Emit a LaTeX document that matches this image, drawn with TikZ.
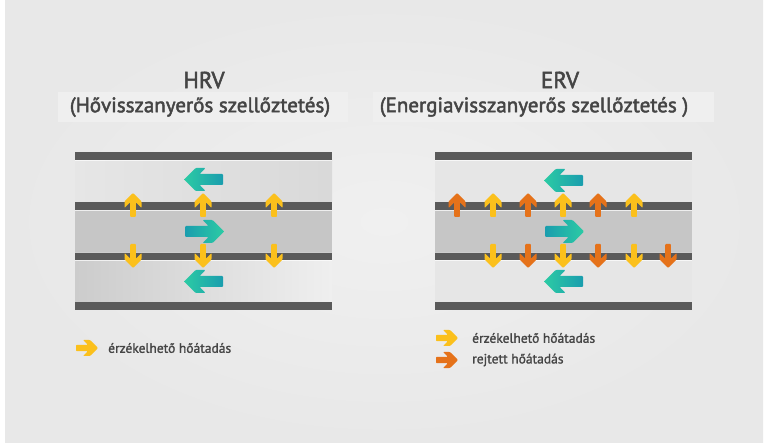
\documentclass[tikz,border=0pt]{standalone}
\usepackage{fontspec}
\setmainfont{PT Sans}
\newfontfamily\medfont{PT Sans}[FakeBold=2.2]
\newfontfamily\legfont{PT Sans}[FakeBold=1.4]
\definecolor{bgout}{HTML}{E8E8E8}
\definecolor{bgin}{HTML}{F0F0F0}
\definecolor{band}{HTML}{EFEFEF}
\definecolor{bar}{HTML}{5A5A5A}
\definecolor{midband}{HTML}{C6C6C6}
\definecolor{lightband}{HTML}{E6E6E6}
\definecolor{yel}{HTML}{FBC01C}
\definecolor{ora}{HTML}{E5721A}
\definecolor{tealA}{HTML}{2CCBA4}
\definecolor{tealB}{HTML}{1A9DAE}
\definecolor{txt}{HTML}{454545}
% horizontal chevron arrow: opts, tipx, tipy, dir(1=points left,-1=points right), L, H, d, s
\newcommand\harr[8]{\path[#1] (#2,#3) -- ({#2+#4*#6},{#3-#6}) -- ({#2+#4*(#6+#7)},{#3-#6}) -- ({#2+#4*(#8+#7)},{#3-#8}) -- ({#2+#4*#5},{#3-#8}) -- ({#2+#4*#5},{#3+#8}) -- ({#2+#4*(#8+#7)},{#3+#8}) -- ({#2+#4*(#6+#7)},{#3+#6}) -- ({#2+#4*#6},{#3+#6}) -- cycle;}
% vertical chevron arrow: dir 1 = points up, -1 = points down
\newcommand\varr[8]{\path[#1] (#2,#3) -- ({#2-#6},{#3+#4*#6}) -- ({#2-#6},{#3+#4*(#6+#7)}) -- ({#2-#8},{#3+#4*(#8+#7)}) -- ({#2-#8},{#3+#4*#5}) -- ({#2+#8},{#3+#4*#5}) -- ({#2+#8},{#3+#4*(#8+#7)}) -- ({#2+#6},{#3+#4*(#6+#7)}) -- ({#2+#6},{#3+#4*#6}) -- cycle;}
\newcommand\upY[2]{\varr{fill=yel,rounded corners=0.8pt}{#1}{#2}{1}{24}{8.5}{6.5}{2.8}}
\newcommand\dnY[2]{\varr{fill=yel,rounded corners=0.8pt}{#1}{#2}{-1}{24}{8.5}{6.5}{2.8}}
\newcommand\upO[2]{\varr{fill=ora,rounded corners=0.8pt}{#1}{#2}{1}{24}{8.5}{6.5}{2.8}}
\newcommand\dnO[2]{\varr{fill=ora,rounded corners=0.8pt}{#1}{#2}{-1}{24}{8.5}{6.5}{2.8}}
\newcommand\tealL[2]{\harr{left color=tealA,right color=tealB,rounded corners=1pt}{#1}{#2}{1}{39}{11.5}{10}{5.5}}
\newcommand\tealR[2]{\harr{left color=tealB,right color=tealA,rounded corners=1pt}{#1}{#2}{-1}{39}{11.5}{10}{5.5}}
\tikzset{
  title/.style={font=\medfont\fontsize{21}{24}\selectfont, text=txt, inner sep=0pt},
  bigtitle/.style={font=\medfont\fontsize{23}{26}\selectfont, text=txt, inner sep=0pt},
  legend/.style={font=\legfont\fontsize{13.5}{16}\selectfont, text=txt, inner sep=0pt, anchor=west},
  barfill/.style={fill=bar},
  edge/.style={draw=white, line width=0.8pt, opacity=0.7}
}
\begin{document}
\begin{tikzpicture}[x=1pt,y=-1pt]
\useasboundingbox (0,0) rectangle (768,443);
\fill[white] (0,0) rectangle (768,443);
\shade[inner color=bgin, outer color=bgout] (5,0) rectangle (763,443);
\fill[band] (58,92) rectangle (348,122);
\fill[band] (373,92) rectangle (714,122);

% titles
\node[bigtitle] (hrv) at (204,80) {HRV};
\node[title] (hrvsub) at (200,107) {(Hővisszanyerős szellőztetés)};
\node[bigtitle] (erv) at (560,80) {ERV};
\node[title] (ervsub) at (534,107) {(Energiavisszanyerős szellőztetés )};

% HRV panel
\shade[left color=lightband, middle color=band, right color=black!15] (75,160) rectangle (332,202);
\fill[midband] (75,210) rectangle (332,252);
\shade[left color=black!20, middle color=lightband, right color=band] (75,260) rectangle (332,302);
\foreach \y in {152,202,252,302} \fill[barfill] (75,\y) rectangle (332,\y+8);
\foreach \y in {160,210,252,260} \draw[edge] (75,\y) -- (332,\y);

% ERV panel
\fill[lightband] (435,160) rectangle (692,202);
\fill[midband] (435,210) rectangle (692,252);
\fill[lightband] (435,260) rectangle (692,302);
\foreach \y in {152,202,252,302} \fill[barfill] (435,\y) rectangle (692,\y+8);
\foreach \y in {160,210,252,260} \draw[edge] (435,\y) -- (692,\y);

% HRV arrows
\foreach \x in {133,203,274} {\upY{\x}{193} \dnY{\x}{268}}
\tealL{184}{179.5}
\tealR{224}{231.5}
\tealL{184}{281.5}

% ERV arrows
\foreach \x in {457,528,598} {\upO{\x}{193}}
\foreach \x in {493,563,634} {\upY{\x}{193}}
\foreach \x in {493,563,634} {\dnY{\x}{268}}
\foreach \x in {528,598,668} {\dnO{\x}{268}}
\tealL{544}{180.5}
\tealR{584}{231.5}
\tealL{544}{281.5}

% legends
\harr{fill=yel,rounded corners=0.8pt}{98}{348}{-1}{22}{8}{7}{3.2}
\node[legend] (lh) at (108,348) {érzékelhető hőátadás};
\harr{fill=yel,rounded corners=0.8pt}{458}{338}{-1}{22}{8}{7}{3.2}
\node[legend] (le1) at (472,338) {érzékelhető hőátadás};
\harr{fill=ora,rounded corners=0.8pt}{458}{360}{-1}{22}{8}{7}{3.2}
\node[legend] (le2) at (472,360) {rejtett hőátadás};
\end{tikzpicture}
\end{document}
